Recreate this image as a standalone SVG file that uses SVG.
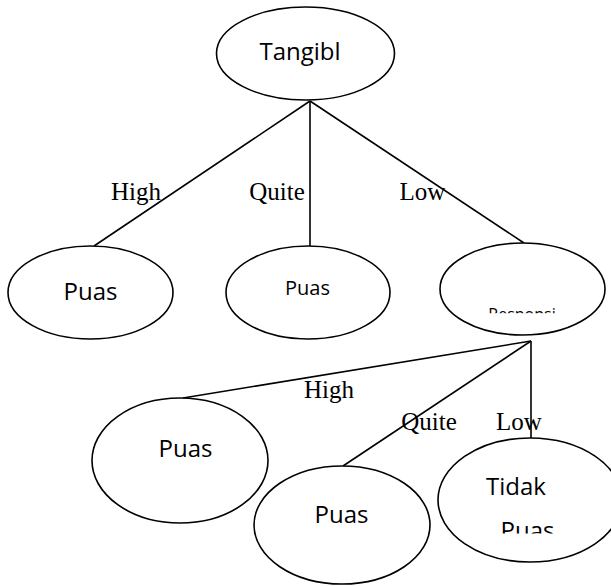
<svg xmlns="http://www.w3.org/2000/svg" width="611" height="586" viewBox="0 0 611 586">
<style>
.n{fill:#fff;stroke:#000;stroke-width:1.6}
.e{stroke:#000;stroke-width:1.6;fill:none}
.t{font-family:"Open Sans","Liberation Sans",sans-serif;fill:#000;text-anchor:middle}
.l{font-family:"Liberation Serif","Times New Roman",serif;font-size:25px;fill:#000;text-anchor:middle}
</style>
<defs>
<clipPath id="cR"><rect x="0" y="0" width="611" height="313.3"/></clipPath>
<clipPath id="cT"><rect x="0" y="0" width="611" height="533.5"/></clipPath>
</defs>
<rect width="611" height="586" fill="#fff"/>
<g id="connectors">
<line class="e" x1="310" y1="101" x2="94" y2="246"/>
<line class="e" x1="310" y1="101" x2="310" y2="246"/>
<line class="e" x1="310" y1="101" x2="524" y2="243"/>
<line class="e" x1="531" y1="341" x2="183" y2="398"/>
<line class="e" x1="531" y1="341" x2="343" y2="466"/>
<line class="e" x1="531" y1="341" x2="531" y2="438"/>
<text class="l" x="136" y="200">High</text>
<text class="l" x="277" y="200">Quite</text>
<text class="l" x="422.5" y="200">Low</text>
<text class="l" x="329" y="398">High</text>
<text class="l" x="429" y="430">Quite</text>
<text class="l" x="519" y="430">Low</text>
</g>
<g id="tangibl">
<ellipse class="n" cx="305.5" cy="53.5" rx="89" ry="46.5"/>
<text class="t" x="300" y="60" font-size="24">Tangibl</text>
</g>
<g id="puas1">
<ellipse class="n" cx="90.5" cy="292.5" rx="82.5" ry="46.5"/>
<text class="t" x="90.5" y="300" font-size="24">Puas</text>
</g>
<g id="puas2">
<ellipse class="n" cx="308" cy="292.5" rx="82" ry="46.5"/>
<text class="t" x="307.5" y="295" font-size="20">Puas</text>
</g>
<g id="responsi">
<ellipse class="n" cx="522.5" cy="289" rx="82.5" ry="46"/>
<text class="t" x="522" y="319.5" font-size="16" clip-path="url(#cR)">Responsi</text>
</g>
<g id="puas3">
<ellipse class="n" cx="180" cy="460.5" rx="88" ry="62.5"/>
<text class="t" x="185.5" y="457" font-size="24">Puas</text>
</g>
<g id="puas4">
<ellipse class="n" cx="342" cy="525" rx="88" ry="59"/>
<text class="t" x="341.5" y="523" font-size="24">Puas</text>
</g>
<g id="tidakpuas">
<ellipse class="n" cx="530" cy="500" rx="92" ry="62"/>
<text class="t" x="516" y="495" font-size="24">Tidak</text>
<text class="t" x="527.5" y="539" font-size="24" clip-path="url(#cT)">Puas</text>
</g>
</svg>
